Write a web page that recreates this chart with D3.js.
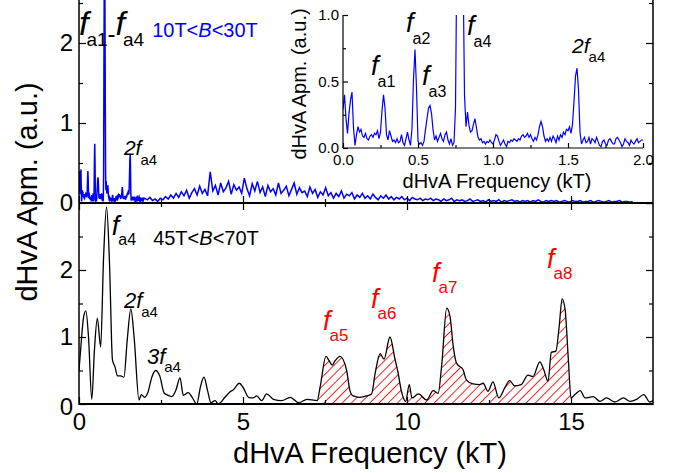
<!DOCTYPE html>
<html><head><meta charset="utf-8">
<script src="https://cdn.jsdelivr.net/npm/d3@7"></script>
<style>
body{margin:0;background:#fff}
svg{font-family:"Liberation Sans",Arial,sans-serif}
.axis line{stroke:#000;stroke-width:1.2}
.axis text{font-size:24px;fill:#000}
.inset .axis text{font-size:15px}
</style></head>
<body><svg id="c" width="681" height="473"></svg>
<script>
// 10T<B<30T spectrum, 0 - 2 kT, sampled every 0.01 kT (same data in the inset)
const blueLowStep = 0.01
const blueLow = [
  0.29,0.40,0.22,0.11,0.26,0.36,0.42,0.15,0.02,0.10,
  0.16,0.12,0.14,0.09,0.08,0.11,0.07,0.06,0.09,0.10,
  0.08,0.11,0.10,0.13,0.07,0.12,0.28,0.40,0.30,0.10,
  0.06,0.13,0.09,0.05,0.06,0.04,0.07,0.04,0.05,0.10,
  0.04,0.02,0.07,0.12,0.06,0.02,0.15,0.52,0.74,0.45,
  0.05,0.03,0.04,0.02,0.05,0.14,0.22,0.30,0.32,0.26,
  0.14,0.06,0.09,0.05,0.08,0.11,0.07,0.05,0.10,0.12,
  0.06,0.03,0.07,0.02,0.04,0.30,1.60,2.80,3.00,2.60,
  1.40,0.40,0.16,0.27,0.17,0.12,0.13,0.18,0.22,0.15,
  0.08,0.06,0.07,0.04,0.05,0.03,0.05,0.04,0.06,0.04,
  0.03,0.06,0.10,0.09,0.05,0.02,0.04,0.06,0.03,0.01,
  0.05,0.04,0.06,0.05,0.07,0.06,0.05,0.07,0.06,0.09,
  0.10,0.08,0.09,0.11,0.08,0.10,0.07,0.05,0.08,0.06,
  0.10,0.16,0.20,0.16,0.09,0.05,0.07,0.05,0.08,0.05,
  0.09,0.07,0.04,0.09,0.06,0.10,0.08,0.12,0.10,0.14,
  0.13,0.16,0.11,0.18,0.35,0.54,0.60,0.44,0.12,0.03,
  0.06,0.08,0.04,0.05,0.08,0.03,0.07,0.06,0.04,0.08,
  0.05,0.02,0.01,0.05,0.06,0.03,0.02,0.06,0.07,0.05,
  0.03,0.03,0.07,0.08,0.06,0.04,0.01,0.03,0.07,0.05,
  0.04,0.02,0.06,0.04,0.03,0.05,0.07,0.04,0.05,0.06,0.06
]
// rest of the 10T<B<30T spectrum, from 2.08 kT every 0.08 kT
const blueHighStart = 2.08, blueHighStep = 0.08
const blueHigh = [
  0.04,0.07,0.03,0.05,0.02,0.06,0.04,0.08,0.05,0.10,0.06,0.12,
  0.07,0.14,0.09,0.16,0.06,0.13,0.18,0.10,0.21,0.12,0.17,0.09,
  0.39,0.15,0.22,0.10,0.25,0.14,0.19,0.27,0.11,0.23,0.16,0.20,
  0.12,0.31,0.18,0.09,0.24,0.15,0.27,0.13,0.20,0.08,0.22,0.14,
  0.18,0.10,0.25,0.12,0.16,0.21,0.09,0.17,0.25,0.11,0.19,0.13,
  0.15,0.08,0.20,0.12,0.17,0.07,0.14,0.10,0.19,0.09,0.13,0.06,
  0.12,0.08,0.15,0.06,0.11,0.09,0.13,0.05,0.10,0.07,0.12,0.06,
  0.09,0.05,0.11,0.07,0.04,0.09,0.06,0.10,0.05,0.08,0.04,0.07,
  0.05,0.08,0.04,0.06,0.03,0.07,0.05,0.04,0.06,0.03,0.05,0.04,
  0.06,0.03,0.05,0.04,0.02,0.05,0.03,0.04,0.06,0.02,0.04,0.03,
  0.04,0.02,0.03,0.05,0.02,0.03,0.04,0.02,0.03,0.01,0.04,0.02,
  0.03,0.02,0.04,0.01,0.03,0.02,0.03,0.04,0.02,0.03,0.01,0.03,
  0.02,0.03,0.01,0.03,0.02,0.04,0.02,0.01,0.03,0.02,0.03,0.02,
  0.03,0.01,0.02,0.03,0.02,0.01,0.03,0.02,0.02,0.03,0.01,0.02,
  0.02,0.03,0.01,0.02,0.03,0.02,0.01,0.02,0.03,0.01,0.02,0.02,
  0.03,0.01,0.02,0.02,0.01,0.02
]
// 45T<B<70T spectrum
const blackFreq = [0.00,0.08,0.14,0.21,0.29,0.39,0.47,0.56,0.66,0.75,0.84,0.93,1.02,1.10,1.17,1.27,1.37,1.47,1.58,1.68,
  1.83,1.90,2.00,2.10,2.22,2.34,2.46,2.60,2.72,2.83,2.95,3.08,3.18,3.33,3.45,3.59,3.70,3.81,3.92,4.02,
  4.15,4.25,4.45,4.60,4.70,4.89,5.00,5.17,5.30,5.42,5.57,5.72,5.93,6.18,6.44,6.70,6.95,7.26,7.35,7.53,
  7.62,7.72,7.80,7.96,8.16,8.26,8.36,8.56,8.77,8.92,9.03,9.18,9.30,9.48,9.63,9.73,9.83,9.96,10.07,10.15,
  10.35,10.60,10.80,10.95,11.06,11.21,11.31,11.41,11.51,11.71,11.81,12.01,12.22,12.32,12.47,12.62,12.80,12.98,13.13,13.28,
  13.48,13.69,13.84,14.05,14.17,14.30,14.40,14.54,14.64,14.73,14.82,14.92,15.00,15.12,15.28,15.43,15.68,15.88,16.08,16.34,
  16.60,16.80,17.00,17.22,17.40,17.50]
const blackAmp = [0.50,1.00,1.30,1.39,1.00,0.07,0.80,1.28,0.85,2.20,2.94,2.10,0.66,0.55,0.42,0.42,0.40,0.95,1.42,1.00,
  0.06,0.14,0.10,0.17,0.40,0.50,0.42,0.16,0.13,0.11,0.20,0.39,0.13,0.17,0.10,0.00,0.25,0.40,0.20,0.02,
  0.05,0.00,0.10,0.18,0.21,0.31,0.25,0.10,0.09,0.12,0.05,0.15,0.07,0.05,0.10,0.02,0.07,0.05,0.25,0.71,
  0.65,0.58,0.64,0.71,0.50,0.20,0.12,0.10,0.12,0.15,0.46,0.75,0.67,1.00,0.68,0.46,0.19,0.04,0.29,0.09,
  0.15,0.06,0.20,0.16,0.59,1.43,1.31,0.86,0.61,0.51,0.36,0.30,0.29,0.31,0.19,0.33,0.09,0.24,0.35,0.27,
  0.29,0.43,0.41,0.63,0.51,0.34,0.77,0.79,1.16,1.57,1.41,0.66,0.09,0.14,0.20,0.09,0.11,0.04,0.09,0.03,
  0.09,0.04,0.07,0.14,0.03,0.05]
const hatchFrom = 7.26, hatchTo = 15.0

const blue = blueLow.map((v, i) => ({ f: i * blueLowStep, v }))
  .concat(blueHigh.map((v, i) => ({ f: blueHighStart + i * blueHighStep, v })))
const black = blackFreq.map((f, i) => ({ f, v: blackAmp[i] }))

const L = 79, R = 653, midY = 203, botY = 404
const x = d3.scaleLinear().domain([0, 17.5]).range([L, R])
const yTop = d3.scaleLinear().domain([0, 2.5]).range([midY, 3])
const yBot = d3.scaleLinear().domain([0, 3]).range([botY, midY])
const xi = d3.scaleLinear().domain([0, 2]).range([343, 643])
const yi = d3.scaleLinear().domain([0, 1]).range([148, 15])

const svg = d3.select("#c")
const defs = svg.append("defs")
defs.append("clipPath").attr("id", "clipTop").append("rect")
  .attr("x", L).attr("y", -10).attr("width", R - L).attr("height", midY + 10)
defs.append("clipPath").attr("id", "clipBot").append("rect")
  .attr("x", L).attr("y", midY).attr("width", R - L).attr("height", botY - midY)
defs.append("clipPath").attr("id", "clipIn").append("rect")
  .attr("x", xi(0)).attr("y", yi(1)).attr("width", xi(2) - xi(0)).attr("height", yi(0) - yi(1))
const pat = defs.append("pattern").attr("id", "hatch").attr("patternUnits", "userSpaceOnUse")
  .attr("width", 6.5).attr("height", 6.5).attr("patternTransform", "rotate(45)")
pat.append("line").attr("x1", 0).attr("y1", 0).attr("x2", 0).attr("y2", 6.5)
  .attr("stroke", "#ff0000").attr("stroke-width", 1.7)

// upper panel
svg.append("path").attr("clip-path", "url(#clipTop)")
  .attr("fill", "none").attr("stroke", "#0000ff").attr("stroke-width", 1.5)
  .attr("d", d3.line().x(d => x(d.f)).y(d => yTop(d.v))(blue))

// lower panel
const hatchData = black.filter(d => d.f >= hatchFrom && d.f <= hatchTo)
svg.append("path").attr("clip-path", "url(#clipBot)").attr("fill", "url(#hatch)")
  .attr("d", d3.area().curve(d3.curveMonotoneX).x(d => x(d.f)).y0(yBot(0)).y1(d => yBot(d.v))(hatchData))
svg.append("path").attr("clip-path", "url(#clipBot)")
  .attr("fill", "none").attr("stroke", "#000").attr("stroke-width", 1.3)
  .attr("d", d3.line().curve(d3.curveMonotoneX).x(d => x(d.f)).y(d => yBot(d.v))(black))

function ax(g, pos, axis, major, minor, fmt, big, small, pad) {
  const a = g.append("g").attr("class", "axis").attr("transform", pos)
  a.call(axis.tickValues(major).tickSize(-big).tickPadding(pad).tickFormat(fmt))
  a.select(".domain").remove()
  if (minor) {
    const b = g.append("g").attr("class", "axis").attr("transform", pos)
    b.call(axis.tickValues(minor).tickSize(-small).tickFormat(""))
    b.select(".domain").remove()
  }
  return a
}
const none = () => ""
// main axes
ax(svg, `translate(${L},0)`, d3.axisLeft(yTop), [0, 1, 2], [0.5, 1.5, 2.5], d3.format("d"), 7, 4, 6)
ax(svg, `translate(${L},0)`, d3.axisLeft(yBot), [1, 2], [0.5, 1.5, 2.5], d3.format("d"), 7, 4, 6)
ax(svg, `translate(${L},0)`, d3.axisLeft(yBot), [0], null, d3.format("d"), 7, 4, 6)
  .selectAll("text").attr("dy", "0.45em")
ax(svg, `translate(${R},0)`, d3.axisRight(yTop), [0, 1, 2], [0.5, 1.5, 2.5], none, 7, 4, 6)
ax(svg, `translate(${R},0)`, d3.axisRight(yBot), [0, 1, 2, 3], [0.5, 1.5, 2.5], none, 7, 4, 6)
ax(svg, `translate(0,${botY})`, d3.axisBottom(x), [0, 5, 10, 15], [2.5, 7.5, 12.5], d3.format("d"), 7, 4, 9)
ax(svg, `translate(0,${midY})`, d3.axisTop(x), [0, 5, 10, 15], [2.5, 7.5, 12.5], none, 7, 4, 6)
ax(svg, `translate(0,${midY})`, d3.axisBottom(x), [0, 5, 10, 15], [2.5, 7.5, 12.5], none, 7, 4, 6)

svg.append("line").attr("x1", L).attr("x2", L).attr("y1", -5).attr("y2", botY + 1).attr("stroke", "#000").attr("stroke-width", 1.5)
svg.append("line").attr("x1", R).attr("x2", R).attr("y1", -5).attr("y2", botY + 1).attr("stroke", "#000").attr("stroke-width", 1.5)
svg.append("line").attr("x1", L).attr("x2", R).attr("y1", botY).attr("y2", botY).attr("stroke", "#000").attr("stroke-width", 2)
svg.append("line").attr("x1", L).attr("x2", R).attr("y1", midY).attr("y2", midY).attr("stroke", "#000").attr("stroke-width", 2.2)

svg.append("text").attr("x", 370).attr("y", 463).attr("text-anchor", "middle")
  .attr("font-size", 29).text("dHvA Frequency (kT)")
svg.append("text").attr("transform", "rotate(-90)").attr("x", -192).attr("y", 37)
  .attr("text-anchor", "middle").attr("font-size", 29).text("dHvA Apm. (a.u.)")

// inset
const ins = svg.append("g").attr("class", "inset")
ins.append("path").attr("clip-path", "url(#clipIn)")
  .attr("fill", "none").attr("stroke", "#0000ff").attr("stroke-width", 1.2)
  .attr("d", d3.line().x(d => xi(d.f)).y(d => yi(d.v))(blue.filter(d => d.f <= 2.001)))
ax(ins, `translate(${xi(0)},0)`, d3.axisLeft(yi), [0, 0.5, 1], [0.25, 0.75], d3.format(".1f"), 5, 3, 4)
ax(ins, `translate(0,${yi(0)})`, d3.axisBottom(xi), [0, 0.5, 1, 1.5, 2], [0.25, 0.75, 1.25, 1.75], d3.format(".1f"), 5, 3, 6)
ins.append("line").attr("x1", xi(0)).attr("x2", xi(0)).attr("y1", yi(1)).attr("y2", yi(0)).attr("stroke", "#000").attr("stroke-width", 1.2)
ins.append("line").attr("x1", xi(0)).attr("x2", xi(2)).attr("y1", yi(0)).attr("y2", yi(0)).attr("stroke", "#000").attr("stroke-width", 1.2)
ins.append("text").attr("x", 497).attr("y", 188).attr("text-anchor", "middle")
  .attr("font-size", 20).text("dHvA Frequency (kT)")
ins.append("text").attr("transform", "rotate(-90)").attr("x", -84).attr("y", 306)
  .attr("text-anchor", "middle").attr("font-size", 20).text("dHvA Apm. (a.u.)")

// annotations
function note(px, py, pieces, fill) {
  const t = svg.append("text").attr("x", px).attr("y", py).attr("fill", fill)
  let cur = 0
  for (const [s, size, it, base, dx] of pieces) {
    t.append("tspan").text(s).attr("font-size", size)
      .attr("font-style", it ? "italic" : "normal")
      .attr("dy", base - cur).attr("dx", dx || 0)
    cur = base
  }
}
const fsub = (pre, sub, big, small, drop) => [[pre, big, true, 0], [sub, small, false, drop, -1]]
const range = (lo, hi, size) => [[lo + "T<", size, false, 0], ["B", size, true, 0], ["<" + hi + "T", size, false, 0]]

note(x(0), yTop(2.1), [["f", 34, true, 0], ["a1", 19, false, 11, -2], ["-", 24, false, 7], ["f", 34, true, 0], ["a4", 19, false, 11, -2]], "#000")
note(x(2.23), yTop(2.075), range(10, 30, 20), "#0000ff")
note(x(1.37), yTop(0.6), fsub("2f", "a4", 21, 15, 10), "#000")

note(xi(0.187), yi(0.55), fsub("f", "a1", 27, 16, 12), "#000")
note(xi(0.42), yi(0.87), fsub("f", "a2", 27, 16, 12), "#000")
note(xi(0.527), yi(0.47), fsub("f", "a3", 27, 16, 12), "#000")
note(xi(0.827), yi(0.85), fsub("f", "a4", 27, 16, 12), "#000")
note(xi(1.527), yi(0.714), fsub("2f", "a4", 21, 15, 9), "#000")

note(x(1.0), yBot(2.52), fsub("f", "a4", 27, 16, 10), "#000")
note(x(2.26), yBot(2.37), range(45, 70, 20), "#000")
note(x(1.37), yBot(1.43), fsub("2f", "a4", 22, 15, 9), "#000")
note(x(2.07), yBot(0.6), fsub("3f", "a4", 22, 15, 8), "#000")
note(x(7.44), yBot(1.1), fsub("f", "a5", 27, 17, 11), "#ff0000")
note(x(8.9), yBot(1.43), fsub("f", "a6", 27, 17, 11), "#ff0000")
note(x(10.76), yBot(1.82), fsub("f", "a7", 27, 17, 11), "#ff0000")
note(x(14.27), yBot(2.03), fsub("f", "a8", 27, 17, 11), "#ff0000")
</script></body></html>
